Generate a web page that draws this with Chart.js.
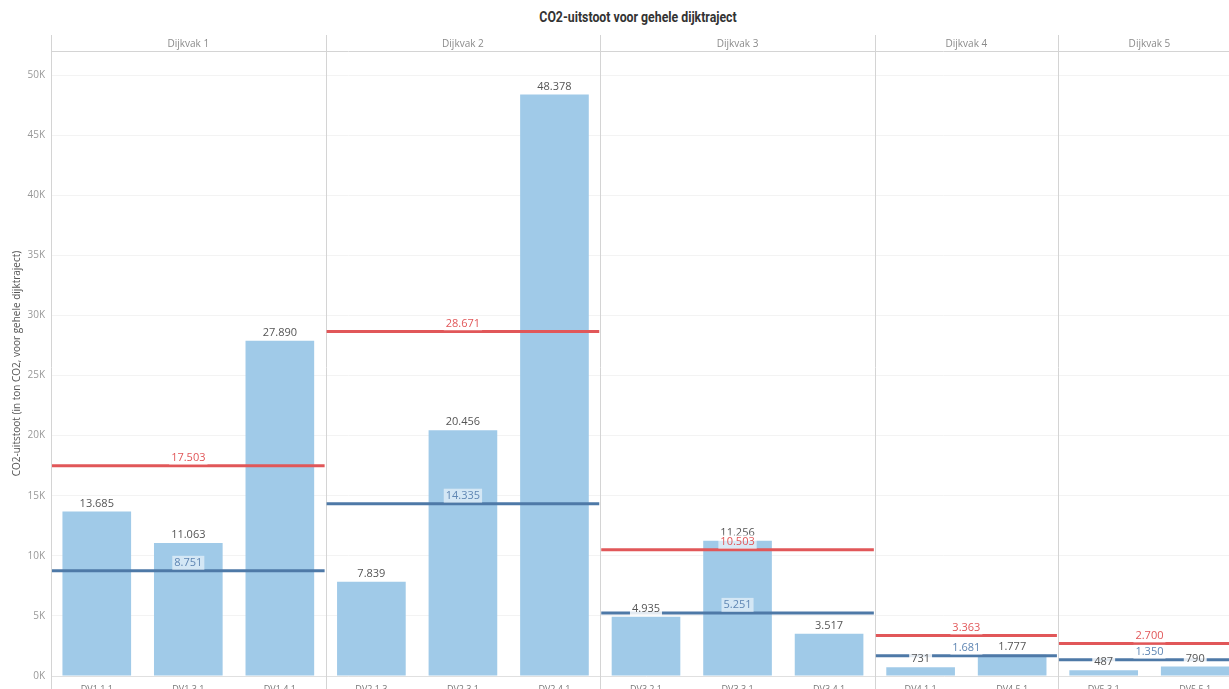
<!DOCTYPE html>
<html>
<head>
<meta charset="utf-8">
<script src="https://cdn.jsdelivr.net/npm/chart.js@4"></script>
<style>
  html, body { margin: 0; padding: 0; background: #fff; overflow: hidden; width: 1229px; height: 689px; }
  #title { position: absolute; top: 8px; left: 0; width: 1276px; text-align: center;
    font: bold 15px Roboto, sans-serif; color: #333; transform: scaleX(0.82); transform-origin: 638px 0; }
  #wrap { position: absolute; top: 0; left: 0; }
</style>
</head>
<body>
<div id="title">CO2-uitstoot voor gehele dijktraject</div>
<div id="wrap"><canvas id="myChart" width="1241" height="700"></canvas></div>
<script>
const labels = ['DV1 1.1','DV1 3.1','DV1 4.1','DV2 1.3','DV2 3.1','DV2 4.1','DV3 2.1','DV3 3.1','DV3 4.1','DV4 1.1','DV4 5.1','DV5 3.1','DV5 5.1'];
const values = [13685, 11063, 27890, 7839, 20456, 48378, 4935, 11256, 3517, 731, 1777, 487, 790];
const panels = ['Dijkvak 1','Dijkvak 2','Dijkvak 3','Dijkvak 4','Dijkvak 5'];
const panelSizes = [3, 3, 3, 2, 2];
const redLine = [17503, 28671, 10503, 3363, 2700];
const blueLine = [8751, 14335, 5251, 1681, 1350];
const yTicks = [0, 5000, 10000, 15000, 20000, 25000, 30000, 35000, 40000, 45000, 50000];

const barColor = '#A0CAE8';
const blue = '#4E79A7';
const red = '#E15759';

// 13685 -> "13.685"
function fmt(v) {
  return String(v).replace(/\B(?=(\d{3})+(?!\d))/g, '.');
}

function labelWithBg(ctx, text, x, y, color, bg) {
  ctx.font = '11px "Open Sans", sans-serif';
  const w = ctx.measureText(text).width;
  ctx.fillStyle = bg;
  ctx.fillRect(x - w / 2 - 2, y - 7, w + 4, 14);
  ctx.fillStyle = color;
  ctx.textAlign = 'center';
  ctx.textBaseline = 'middle';
  ctx.fillText(text, x, y);
}

const panelPlugin = {
  id: 'panels',
  beforeDatasetsDraw(chart) {
    const ctx = chart.ctx;
    const x = chart.scales.x;
    const area = chart.chartArea;
    const slot = x.getPixelForValue(1) - x.getPixelForValue(0);
    ctx.save();
    ctx.strokeStyle = '#d4d4d4';
    ctx.lineWidth = 1;
    // header line and left border
    ctx.beginPath();
    ctx.moveTo(area.left, area.top + 0.5);
    ctx.lineTo(area.right, area.top + 0.5);
    ctx.moveTo(area.left + 0.5, 35);
    ctx.lineTo(area.left + 0.5, 700);
    ctx.stroke();
    let start = 0;
    panels.forEach((name, i) => {
      const end = start + panelSizes[i] - 1;
      const x0 = x.getPixelForValue(start) - slot / 2;
      const x1 = x.getPixelForValue(end) + slot / 2;
      ctx.beginPath();
      ctx.moveTo(Math.round(x1) + 0.5, 35);
      ctx.lineTo(Math.round(x1) + 0.5, 700);
      ctx.stroke();
      ctx.fillStyle = '#8a8a8a';
      ctx.font = '10px "Open Sans", sans-serif';
      ctx.textAlign = 'center';
      ctx.textBaseline = 'middle';
      ctx.fillText(name, (x0 + x1) / 2, 44);
      start = end + 1;
    });
    ctx.restore();
  },
  afterDatasetsDraw(chart) {
    const ctx = chart.ctx;
    const x = chart.scales.x;
    const y = chart.scales.y;
    const slot = x.getPixelForValue(1) - x.getPixelForValue(0);
    const ranges = [];
    let start = 0;
    panels.forEach((name, i) => {
      const end = start + panelSizes[i] - 1;
      ranges.push([x.getPixelForValue(start) - slot / 2, x.getPixelForValue(end) + slot / 2]);
      start = end + 1;
    });
    ctx.save();
    // reference lines
    ranges.forEach((r, i) => {
      ctx.lineWidth = 3;
      ctx.strokeStyle = red;
      ctx.beginPath();
      ctx.moveTo(r[0] + 1, y.getPixelForValue(redLine[i]));
      ctx.lineTo(r[1] - 1, y.getPixelForValue(redLine[i]));
      ctx.stroke();
      ctx.strokeStyle = blue;
      ctx.beginPath();
      ctx.moveTo(r[0] + 1, y.getPixelForValue(blueLine[i]));
      ctx.lineTo(r[1] - 1, y.getPixelForValue(blueLine[i]));
      ctx.stroke();
    });
    // bar labels
    const meta = chart.getDatasetMeta(0);
    meta.data.forEach((bar, i) => {
      labelWithBg(ctx, fmt(values[i]), bar.x, bar.y - 8, '#555', 'rgba(255,255,255,0.85)');
    });
    // line labels
    ranges.forEach((r, i) => {
      const cx = (r[0] + r[1]) / 2;
      labelWithBg(ctx, fmt(redLine[i]), cx, y.getPixelForValue(redLine[i]) - 8, red, 'rgba(255,255,255,0.6)');
      labelWithBg(ctx, fmt(blueLine[i]), cx, y.getPixelForValue(blueLine[i]) - 8, '#5F86B3', 'rgba(255,255,255,0.55)');
    });
    ctx.restore();
  }
};

const ctx = document.getElementById('myChart');
const myChart = new Chart(ctx, {
  type: 'bar',
  data: {
    labels: labels,
    datasets: [{
      data: values,
      backgroundColor: barColor,
      barPercentage: 0.75,
      categoryPercentage: 1.0
    }]
  },
  options: {
    responsive: false,
    animation: false,
    layout: { padding: { top: 51, left: 0, right: 0, bottom: 0 } },
    scales: {
      x: {
        grid: { display: false },
        border: { color: '#e0e0e0' },
        ticks: { color: '#777', font: { size: 9, family: 'Open Sans' }, padding: 0, maxRotation: 0, autoSkip: false },
        afterFit(scale) { scale.height = 24; }
      },
      y: {
        min: 0,
        max: 52000,
        grid: { color: '#f3f3f3', drawTicks: false },
        border: { display: false },
        afterBuildTicks(scale) { scale.ticks = yTicks.map(v => ({ value: v })); },
        ticks: {
          color: '#999',
          padding: 6,
          font: { size: 10, family: 'Open Sans' },
          callback: v => (v / 1000) + 'K'
        },
        title: {
          display: true,
          text: 'CO2-uitstoot (in ton CO2, voor gehele dijktraject)',
          color: '#555',
          font: { size: 10, family: 'Open Sans' },
          padding: { top: 11, bottom: 0 }
        },
        afterFit(scale) { scale.width = 51; }
      }
    },
    plugins: {
      legend: { display: false },
      tooltip: { enabled: false }
    }
  },
  plugins: [panelPlugin]
});
</script>
</body>
</html>
